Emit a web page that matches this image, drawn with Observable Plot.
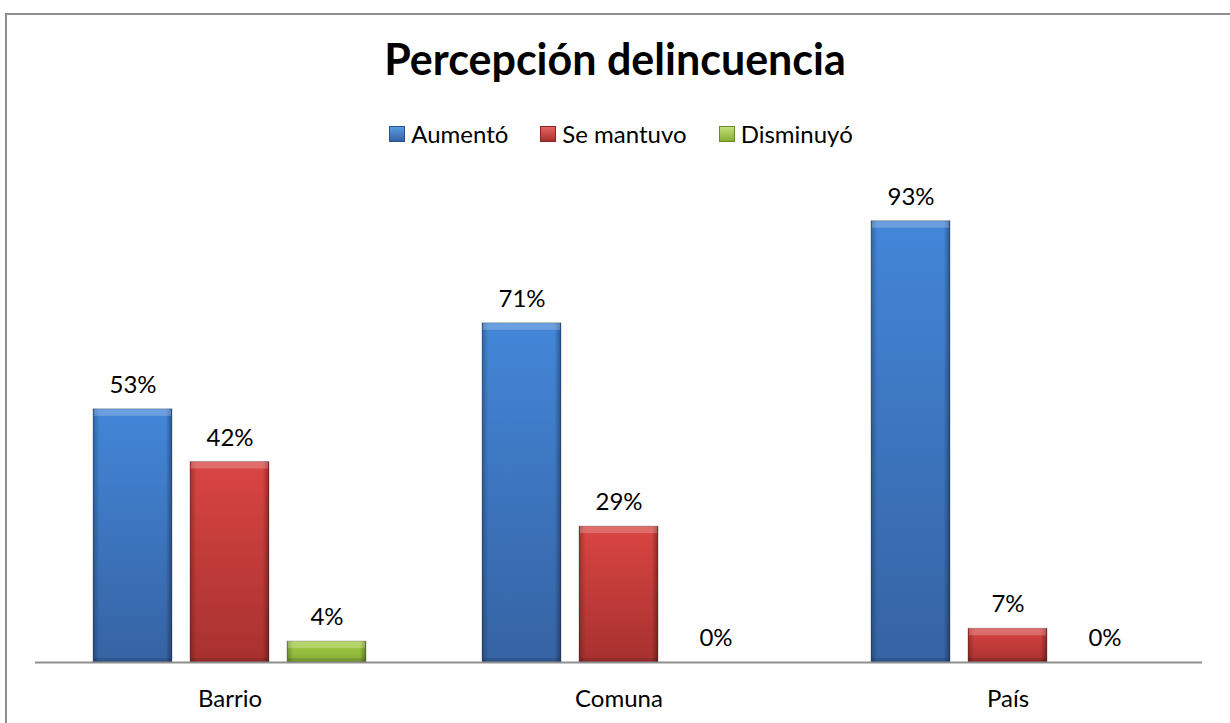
<!DOCTYPE html>
<html><head><meta charset="utf-8">
<script src="https://cdn.jsdelivr.net/npm/d3@7"></script>
<script src="https://cdn.jsdelivr.net/npm/@observablehq/plot@0.6"></script>
<style>
body{margin:0;background:#fff;font-family:Lato,sans-serif;overflow:hidden;width:1230px;height:723px;position:relative}
#frame{position:absolute;left:5px;top:13px;width:1300px;height:800px;border:2px solid #8f8f8f;box-sizing:border-box}
#title{position:absolute;left:0;width:1230px;top:37px;line-height:43px;text-align:center;font-weight:bold;font-size:43px;color:#000}
#legend{position:absolute;top:122px;left:6px;width:1230px;display:flex;justify-content:center;font-size:24px;line-height:24px;color:#000}
#legend .item{display:flex;align-items:center;margin:0 16px}
#legend .sw{width:16px;height:16px;margin-right:6px;box-sizing:border-box}
#chart{position:absolute;top:150px;left:0}
</style></head>
<body>
<svg width="0" height="0" style="position:absolute">
<defs>
<linearGradient id="gBlue" x1="0" y1="0" x2="0" y2="1"><stop offset="0" stop-color="#4386d8"/><stop offset="1" stop-color="#3563a3"/></linearGradient>
<linearGradient id="gRed" x1="0" y1="0" x2="0" y2="1"><stop offset="0" stop-color="#d94542"/><stop offset="1" stop-color="#a7312f"/></linearGradient>
<linearGradient id="gGreen" x1="0" y1="0" x2="0" y2="1"><stop offset="0" stop-color="#a6cf47"/><stop offset="1" stop-color="#86ad34"/></linearGradient>
<linearGradient id="edge" x1="0" y1="0" x2="1" y2="0"><stop offset="0" stop-color="#000" stop-opacity="0.25"/><stop offset="0.08" stop-color="#000" stop-opacity="0"/><stop offset="0.92" stop-color="#000" stop-opacity="0"/><stop offset="1" stop-color="#000" stop-opacity="0.35"/></linearGradient>
</defs></svg>
<div id="frame"></div>
<div id="title">Percepción delincuencia</div>
<div id="legend"></div>
<div id="chart"></div>
<script>
const categories = ["Barrio", "Comuna", "País"];
const series = ["Aumentó", "Se mantuvo", "Disminuyó"];
const aumento = [53.3, 71.4, 92.9];
const mantuvo = [42.2, 28.6, 7.1];
const disminuyo = [4.4, 0, 0];
const fills = ["url(#gBlue)", "url(#gRed)", "url(#gGreen)"];

const values = [aumento, mantuvo, disminuyo];
const rows = categories.flatMap((c, i) => series.map((s, j) => ({cat: c, serie: s, v: values[j][i]})));
const nonzero = rows.filter(d => d.v > 0);

const legend = document.getElementById("legend");
series.forEach((s, j) => {
  const it = document.createElement("div"); it.className = "item";
  const sw = document.createElement("div"); sw.className = "sw";
  sw.style.background = ["linear-gradient(#5b9be3,#3563a3)","linear-gradient(#e76360,#a7312f)","linear-gradient(#c2e07a,#86ad34)"][j];
  sw.style.border = "1px solid " + ["#2b5286","#832624","#6a8a28"][j];
  const t = document.createElement("span"); t.textContent = s;
  it.append(sw, t); legend.append(it);
});

const chart = Plot.plot({
  width: 1230, height: 573,
  marginLeft: 35, marginRight: 28, marginTop: 37, marginBottom: 61,
  style: {fontFamily: "Lato, sans-serif", color: "#000", background: "transparent"},
  fx: {domain: categories, padding: 0, label: null},
  x: {domain: series, axis: null, paddingInner: 0.186, paddingOuter: 0.598},
  y: {domain: [0, 100], axis: null},
  color: {type: "ordinal", domain: series, range: fills},
  marks: [
    Plot.barY(rows, {fx: "cat", x: "serie", y: "v", fill: "serie"}),
    Plot.barY(nonzero, {fx: "cat", x: "serie", y: "v", fill: "url(#edge)", stroke: "#000", strokeOpacity: 0.25, strokeWidth: 1}),
    Plot.barY(nonzero, {fx: "cat", x: "serie", y1: "v", y2: "v", insetBottom: -7, insetLeft: 1, insetRight: 1, fill: "#fff", fillOpacity: 0.22}),
    Plot.barY(nonzero, {fx: "cat", x: "serie", y1: 0, y2: 0, insetTop: -4, insetLeft: 1, insetRight: 1, fill: "#000", fillOpacity: 0.12}),
    Plot.ruleY([0], {stroke: "#8f8f8f", strokeWidth: 2}),
    Plot.text(rows, {fx: "cat", x: "serie", y: "v", text: d => Math.round(d.v) + "%", dy: -24, fontSize: 24, fill: "#000"}),
    Plot.axisFx({anchor: "bottom", tickSize: 0, tickPadding: 27, fontSize: 24, label: null, fill: "#000"})
  ]
});
document.getElementById("chart").append(chart);
</script>
</body></html>
